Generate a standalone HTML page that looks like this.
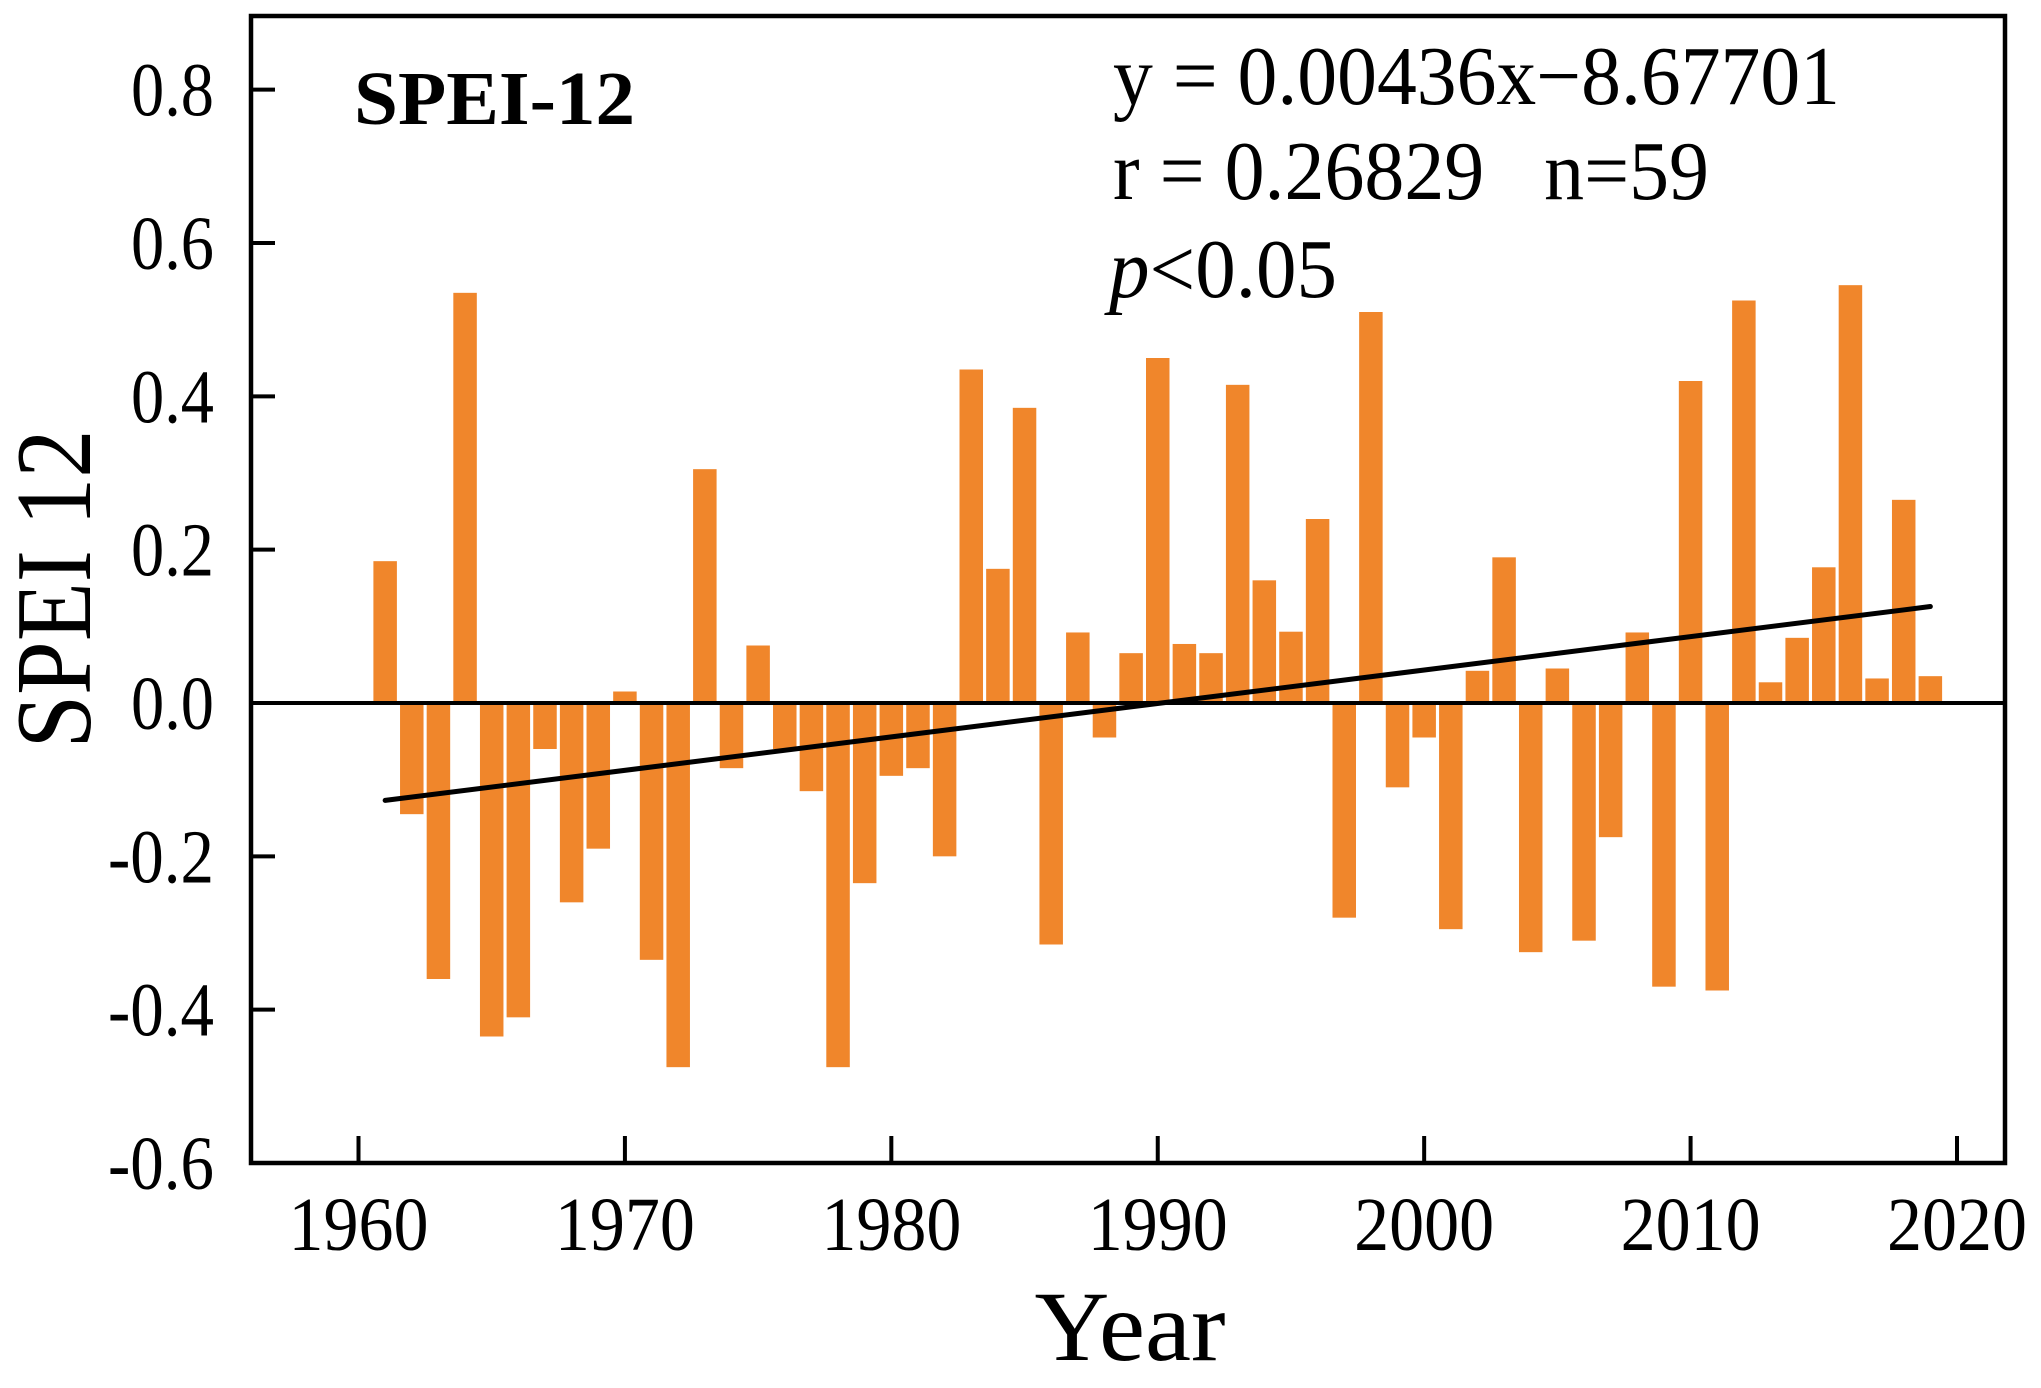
<!DOCTYPE html>
<html><head><meta charset="utf-8"><style>
html,body{margin:0;padding:0;background:#fff;}
svg{display:block;font-family:"Liberation Serif","Times New Roman",serif;}
</style></head><body>
<svg id="chart" width="2041" height="1388" viewBox="0 0 2041 1388" xmlns="http://www.w3.org/2000/svg">
<g id="bars"></g>
<g id="axes"></g>
<text x="354" y="124" font-size="76" font-weight="bold" textLength="281" lengthAdjust="spacingAndGlyphs">SPEI-12</text>
<text x="1113" y="104" font-size="84" textLength="727" lengthAdjust="spacingAndGlyphs">y = 0.00436x−8.67701</text>
<text x="1113" y="199" font-size="84" textLength="596" lengthAdjust="spacingAndGlyphs" xml:space="preserve">r = 0.26829   n=59</text>
<text x="1109" y="297" font-size="84" textLength="228" lengthAdjust="spacingAndGlyphs"><tspan font-style="italic">p</tspan>&lt;0.05</text>
<text transform="translate(90,589) rotate(-90)" text-anchor="middle" font-size="108" textLength="319" lengthAdjust="spacingAndGlyphs">SPEI 12</text>
<text x="1130" y="1360" text-anchor="middle" font-size="100" textLength="191" lengthAdjust="spacingAndGlyphs">Year</text>
</svg>
<script>
const years = [1961,1962,1963,1964,1965,1966,1967,1968,1969,1970,1971,1972,1973,1974,1975,1976,1977,1978,1979,1980,1981,1982,1983,1984,1985,1986,1987,1988,1989,1990,1991,1992,1993,1994,1995,1996,1997,1998,1999,2000,2001,2002,2003,2004,2005,2006,2007,2008,2009,2010,2011,2012,2013,2014,2015,2016,2017,2018,2019];
const speiValues = [0.185,-0.145,-0.36,0.535,-0.435,-0.41,-0.06,-0.26,-0.19,0.015,-0.335,-0.475,0.305,-0.085,0.075,-0.06,-0.115,-0.475,-0.235,-0.095,-0.085,-0.2,0.435,0.175,0.385,-0.315,0.092,-0.045,0.065,0.45,0.077,0.065,0.415,0.16,0.093,0.24,-0.28,0.51,-0.11,-0.045,-0.295,0.042,0.19,-0.325,0.045,-0.31,-0.175,0.092,-0.37,0.42,-0.375,0.525,0.027,0.085,0.177,0.545,0.032,0.265,0.035];
const yTicks = [0.8,0.6,0.4,0.2,0.0,-0.2,-0.4,-0.6];
const yTickLabels = ["0.8","0.6","0.4","0.2","0.0","-0.2","-0.4","-0.6"];
const xTicks = [1960,1970,1980,1990,2000,2010,2020];
const xTickLabels = ["1960","1970","1980","1990","2000","2010","2020"];
const trendSlope = 0.00436;
const trendIntercept = -8.67701;

const NS = "http://www.w3.org/2000/svg";
const L=251, R=2005, T=16, B=1163;
const xScale = yr => 358.5 + (yr-1960)*(1957-358.5)/60;
const yScale = v => 703 + (0 - v)*(1163-703)/0.6;
function mk(tag, attrs, parent){const e=document.createElementNS(NS,tag);for(const k in attrs)e.setAttribute(k,attrs[k]);parent.appendChild(e);return e;}
const bars=document.getElementById('bars'), axes=document.getElementById('axes');
const bw=23.5;
years.forEach((yr,i)=>{
  const v=speiValues[i], y0=yScale(0), y1=yScale(v);
  const r=mk('rect',{x:xScale(yr)-bw/2,y:Math.min(y0,y1),width:bw,height:Math.abs(y1-y0),fill:'#F0862B'},bars);
  
  
});
const z=mk('line',{x1:L,x2:R,y1:yScale(0),y2:yScale(0),stroke:'#000','stroke-width':4},axes);


const x0=years[0], x1=years[years.length-1];
const tl=mk('line',{x1:xScale(x0),y1:yScale(trendSlope*x0+trendIntercept),x2:xScale(x1),y2:yScale(trendSlope*x1+trendIntercept),stroke:'#000','stroke-width':5,'stroke-linecap':'round'},axes);


const fr=mk('rect',{x:L,y:T,width:R-L,height:B-T,fill:'none',stroke:'#000','stroke-width':4.5},axes);


yTicks.forEach((v,i)=>{
  const y=yScale(v);
  const t=mk('line',{x1:L,x2:L+24,y1:y,y2:y,stroke:'#000','stroke-width':4},axes);
  
  
  const lbl=yTickLabels[i];
  const tx=mk('text',{x:214,y:y+26,'text-anchor':'end','font-size':76,textLength:lbl.length>3?106:83,lengthAdjust:'spacingAndGlyphs'},axes);
  tx.textContent=lbl;
  
  
});
xTicks.forEach((yr,i)=>{
  const x=xScale(yr);
  const t=mk('line',{x1:x,x2:x,y1:B,y2:B-27,stroke:'#000','stroke-width':4},axes);
  
  
  const tx=mk('text',{x:x,y:1250,'text-anchor':'middle','font-size':76,textLength:140,lengthAdjust:'spacingAndGlyphs'},axes);
  tx.textContent=xTickLabels[i];
  
  
});
</script>
</body></html>
